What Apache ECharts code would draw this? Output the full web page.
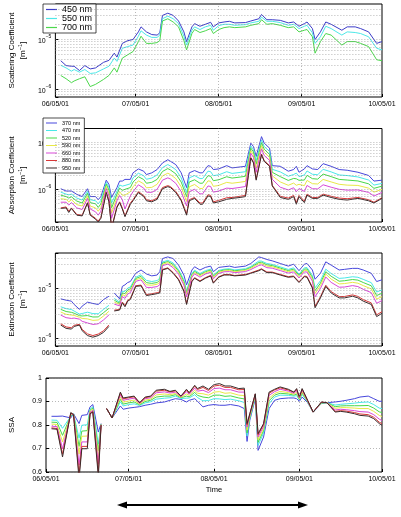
<!DOCTYPE html>
<html><head><meta charset="utf-8">
<script src="https://cdn.jsdelivr.net/npm/echarts@6/dist/echarts.min.js"></script>
<style>html,body{margin:0;padding:0;background:#fff}#c{width:401px;height:517px}</style>
</head><body><div id="c"></div>
<script>
// x: days since 06/05/01
const xTickDays = [0, 30, 61, 92, 122];
const xTickLabels = ['06/05/01', '07/05/01', '08/05/01', '09/05/01', '10/05/01'];

// Panel 1: scattering coefficient, values in 1e-6 m^-1
const scatNames = ['450 nm', '550 nm', '700 nm'];
const scatDays = [2,4,6,7,9,11,13,15,18,20,22,23,25,27,29,31,32,34,36,38,39,40,42,44,46,48,49,51,52,54,56,58,59,61,63,65,67,71,73,76,77,79,81,84,87,89,91,93,94,96,97,99,101,103,107,109,112,114,117,120,122];
const scat450 = [3.7,2.96,2.87,2.87,2.36,2.96,2.54,2.66,3.44,3.76,5.23,4.37,8.2,9.3,9.8,13.9,17.5,13.9,12.3,12.0,13.3,29.6,32.8,29.6,22.9,13.9,8.9,17.5,20.3,18.0,19.7,21.6,17.5,21.0,21.9,22.6,21.0,21.3,22.9,25.4,30.9,24.3,24.3,23.6,21.0,21.9,18.0,20.3,21.9,16.2,9.8,13.9,21.9,19.7,15.0,17.5,17.5,16.2,13.9,8.2,8.9];
const scat550 = [3.0,2.66,2.29,2.47,2.19,2.47,2.06,2.12,2.54,2.87,4.17,3.59,6.55,7.08,7.6,11.4,14.6,12.0,10.8,10.8,12.0,25.4,28.7,25.4,20.3,11.4,7.6,15.0,17.5,15.5,17.5,18.8,15.0,18.5,19.7,19.7,18.8,19.4,21.0,22.6,27.4,22.6,22.6,21.3,18.8,19.7,16.2,18.0,18.8,13.3,8.2,11.1,18.0,16.2,12.0,13.9,13.5,12.9,11.1,6.55,6.08];
const scat700 = [1.88,1.62,1.35,1.46,1.62,1.77,1.13,1.25,1.57,1.88,2.66,2.19,4.17,4.85,5.64,8.9,11.4,8.2,8.2,8.5,9.3,22.9,25.4,21.9,17.5,9.3,6.08,12.9,15.5,13.5,14.6,16.2,12.9,15.5,16.9,17.5,16.9,17.5,18.8,20.3,24.3,19.7,20.3,18.8,16.9,17.5,13.9,15.0,15.5,11.1,5.23,8.9,12.9,12.0,7.6,8.9,8.9,8.2,7.08,3.87,3.7];

// Panels 2-4 wavelengths
const wlNames = ['370 nm', '470 nm', '520 nm', '590 nm', '660 nm', '880 nm', '950 nm'];

// Panel 2: absorption coefficient, values in 1e-6 m^-1
const absDays = [2,4,5,6,8,10,12,13,15,16,17,19,20,21,23,24,25,26,28,29,31,33,34,36,38,40,42,43,45,47,49,50,52,54,55,57,58,59,61,64,66,69,71,73,74,75,77,78,80,81,84,87,89,90,91,93,94,96,98,100,103,106,109,113,117,119,122];
const abs370 = [1.03,.92,.92,.92,.78,.70,1.03,.70,.70,.60,.70,1.57,1.28,.67,1.09,1.5,1.5,1.63,1.63,2.25,2.73,2.44,2.07,2.25,2.65,3.66,4.3,3.97,3.37,2.25,1.09,2.25,2.52,2.25,2.25,3.21,3.11,2.65,2.73,3.21,2.87,3.01,3.11,9.7,8.2,5.06,13.4,9.7,7.6,3.21,3.11,2.44,2.65,3.11,2.32,2.73,3.21,2.73,2.65,3.54,3.11,2.65,2.56,2.32,1.98,1.5,1.57];
const abs470 = [.87,.79,.76,.79,.65,.59,.91,.60,.57,.49,.58,1.41,1.09,.51,.91,1.24,1.17,1.21,1.31,1.76,2.21,1.95,1.64,1.74,2.03,2.92,3.39,3.14,2.63,1.76,.85,1.76,1.97,1.70,1.70,2.45,2.38,1.96,2.04,2.38,2.19,2.30,2.38,8.5,7.1,4.1,11.4,8.2,6.5,2.68,2.36,1.90,2.08,2.22,1.87,2.03,2.47,2.10,2.05,2.68,2.36,2.03,1.97,1.84,1.58,1.23,1.34];
const abs520 = [.75,.70,.65,.69,.56,.51,.82,.52,.49,.41,.49,1.29,.96,.40,.79,1.06,.95,1.0,1.09,1.43,1.86,1.62,1.35,1.41,1.63,2.41,2.78,2.59,2.14,1.43,.70,1.43,1.60,1.35,1.35,1.96,1.90,1.53,1.60,1.86,1.74,1.83,1.90,7.6,6.3,3.44,9.95,7.2,5.6,2.31,1.87,1.55,1.71,1.68,1.56,1.58,1.99,1.69,1.65,2.12,1.87,1.63,1.58,1.51,1.31,1.05,1.17];
const abs590 = [.63,.61,.54,.60,.47,.44,.72,.44,.40,.34,.41,1.16,.83,.31,.67,.89,.75,.75,.89,1.13,1.52,1.31,1.08,1.10,1.28,1.94,2.21,2.07,1.69,1.13,.55,1.13,1.27,1.04,1.04,1.52,1.48,1.16,1.21,1.41,1.35,1.42,1.48,6.7,5.5,2.82,8.6,6.2,4.86,1.94,1.44,1.22,1.36,1.22,1.28,1.20,1.55,1.32,1.30,1.63,1.44,1.28,1.23,1.21,1.06,.87,1.0];
const abs660 = [.53,.53,.46,.52,.40,.37,.64,.38,.33,.28,.34,1.04,.72,.24,.57,.74,.60,.38,.72,.89,1.25,1.06,.87,.86,1.0,1.57,1.76,1.66,1.34,.89,.44,.89,1.0,.80,.80,1.18,1.15,.87,.92,1.06,1.04,1.10,1.15,5.9,4.8,2.32,7.35,5.3,4.17,1.64,1.11,.97,1.08,.89,1.04,.90,1.21,1.03,1.02,1.25,1.11,1.0,.96,.97,.86,.72,.86];
const abs880 = [.40,.42,.34,.40,.29,.28,.52,.29,.24,.21,.25,.87,.56,.15,.43,.54,.40,.27,.51,.60,.89,.74,.60,.57,.65,1.09,1.20,1.14,.90,.60,.30,.60,.67,.51,.51,.77,.74,.54,.58,.66,.67,.71,.74,4.8,3.78,1.65,5.7,4.1,3.22,1.22,.71,.65,.74,.52,.74,.56,.79,.67,.67,.79,.71,.65,.63,.67,.60,.53,.66];
const abs950 = [.39,.40,.32,.39,.28,.27,.51,.28,.23,.20,.24,.85,.54,.145,.41,.52,.38,.26,.48,.57,.85,.70,.57,.54,.61,1.03,1.14,1.09,.85,.57,.28,.57,.64,.48,.48,.72,.70,.51,.54,.61,.64,.67,.70,4.66,3.66,1.57,5.5,3.97,3.11,1.18,.67,.61,.70,.48,.70,.52,.75,.64,.64,.75,.67,.61,.59,.64,.57,.51,.64];

// Panel 3: extinction coefficient, values in 1e-6 m^-1 (null = no data)
const extDays = [2,4,6,7,9,10,12,14,16,18,20,21,22,24,25,26,27,28,30,32,34,36,38,39,40,42,44,46,48,49,51,52,54,56,58,59,61,63,65,67,71,73,76,77,79,81,84,87,89,91,93,94,96,97,99,101,103,106,108,111,113,115,118,120,122];
const ext370 = [6.09,5.73,5.48,4.71,3.76,4.37,5.24,4.93,4.71,5.91,6.87,null,7.98,6.09,10.8,11.6,12.9,13.5,19.7,22.9,19.1,17.5,18.2,21.2,38.7,41.8,38.7,28.7,18.2,11.6,22.9,26.6,22.9,25.8,27.4,21.2,25.8,26.6,27.4,25.8,27.4,30.9,41.8,40.5,37.1,34.9,30.9,27.4,30.0,22.2,30.0,30.9,22.9,15.0,19.7,33.3,28.7,22.9,23.6,24.7,24.7,22.9,19.7,13.5,14.6];
const ext470 = [4.24,3.89,3.73,3.48,3.03,3.11,3.30,3.10,3.07,3.76,4.53,null,6.22,5.22,8.6,8.6,9.98,10.5,16.4,18.4,14.2,13.5,14.1,15.8,33.1,35.7,31.6,23.4,14.6,8.87,19.5,22.7,19.5,22.2,23.9,18.1,22.5,23.8,24.3,23.0,24.3,27.0,34.6,34.5,30.9,29.6,26.4,23.5,25.3,18.9,25.3,25.6,17.9,10.1,14.0,23.8,19.5,15.6,15.9,16.8,16.4,14.9,12.8,8.34,9.19];
const ext520 = [3.76,3.41,3.28,3.15,2.82,2.78,2.83,2.65,2.66,3.24,3.94,null,5.73,4.96,7.98,7.76,9.16,9.7,15.5,17.1,12.8,12.4,12.9,14.4,31.4,33.8,29.6,21.9,13.5,8.09,18.5,21.5,18.5,21.1,22.9,17.2,21.5,22.9,23.3,22.1,23.3,25.8,32.4,32.7,29.1,28.1,25.0,22.3,23.9,17.9,23.9,24.0,16.4,8.89,12.5,21.2,17.2,13.7,14.0,14.8,14.4,12.9,11.1,7.1,7.88];
const ext590 = [3.33,3.0,2.89,2.85,2.62,2.48,2.43,2.27,2.31,2.78,3.44,null,5.27,4.71,7.4,7.02,8.41,8.93,14.6,15.9,11.6,11.4,11.9,13.0,29.8,32.1,27.6,20.4,12.5,7.4,17.6,20.4,17.6,20.1,21.9,16.3,20.6,22.0,22.4,21.2,22.4,24.7,30.5,30.9,27.4,26.6,23.8,21.2,22.5,16.9,22.5,22.5,15.1,7.8,11.2,19.0,15.1,12.1,12.3,13.0,12.5,11.2,9.63,6.04,6.76];
const ext660 = [2.89,2.57,2.48,2.52,2.40,2.17,2.02,1.88,1.94,2.32,2.91,null,4.78,4.43,6.76,6.22,7.59,8.09,13.6,14.6,10.3,10.3,10.7,11.6,27.9,30.1,25.5,18.8,11.5,6.64,16.5,19.2,16.5,19.0,20.7,15.3,19.5,21.1,21.3,20.3,21.3,23.4,28.2,29.0,25.5,24.9,22.3,19.9,21.0,15.9,21.0,20.9,13.7,6.67,9.78,16.6,13.0,10.4,10.5,11.2,10.7,9.43,8.11,4.98,5.63];
const ext880 = [1.94,1.68,1.62,1.81,1.89,1.50,1.22,1.13,1.21,1.41,1.84,null,3.63,3.74,5.27,4.46,5.71,6.15,11.1,11.5,7.43,7.72,8.07,8.37,23.5,25.3,20.4,15.1,8.93,4.93,13.9,16.1,13.9,16.1,17.9,12.9,16.8,18.6,18.7,17.8,18.7,20.1,22.9,24.2,20.9,20.8,18.7,16.9,17.4,13.3,17.4,17.0,10.4,4.33,6.73,11.4,8.49,6.78,6.79,7.31,6.81,5.88,5.06,2.92,3.39];
const ext950 = [1.83,1.57,1.52,1.72,1.83,1.41,1.13,1.05,1.13,1.31,1.72,null,3.49,3.65,5.08,4.24,5.48,5.91,10.8,11.1,7.08,7.4,7.74,7.98,22.9,24.7,19.7,14.6,8.6,4.71,13.5,15.7,13.5,15.7,17.5,12.5,16.4,18.2,18.2,17.5,18.2,19.7,22.2,23.6,20.3,20.3,18.2,16.4,16.9,12.9,16.9,16.4,10.0,4.05,6.37,10.8,7.98,6.37,6.37,6.87,6.37,5.48,4.71,2.70,3.14];

// Panel 4: single scattering albedo (null = no data)
const ssaDays = [2,4,6,9,10,12,13,15,16,17,19,20,21,22,24,27,28,30,32,34,36,38,40,43,45,47,49,51,52,54,55,57,59,61,63,65,67,70,72,73,74,76,77,79,81,83,85,88,90,91,92,93,95,97,100,102,105,107,109,112,114,117,119,121,122];
const ssa370 = [.837,.837,.838,.830,.848,.806,.841,.844,.877,.887,.770,.806,null,.870,.830,.881,.867,.872,.875,.878,.884,.888,.894,.898,.905,.912,.909,.898,.905,.912,.901,.877,.884,.887,.884,.884,.887,.881,.870,.730,.820,.912,.692,.749,.870,.905,.912,.915,.915,.912,.901,.919,.895,.855,.891,.895,.898,.901,.905,.912,.919,.923,.912,.901,.901];
const ssa470 = [.821,.820,.786,.837,.847,.744,.799,.801,.868,.877,.719,.804,null,.870,.830,.899,.881,.887,.890,.883,.894,.899,.910,.914,.916,.923,.913,.914,.915,.929,.917,.903,.904,.912,.911,.908,.910,.903,.896,.753,.828,.918,.713,.766,.891,.919,.927,.926,.923,.925,.906,.930,.898,.855,.893,.895,.885,.888,.890,.893,.896,.898,.887,.872,.870];
const ssa520 = [.812,.811,.756,.840,.846,.709,.774,.776,.863,.872,.690,.803,null,.870,.830,.909,.889,.894,.898,.886,.900,.905,.919,.923,.923,.929,.916,.923,.920,.939,.926,.919,.916,.927,.927,.922,.924,.915,.911,.766,.833,.922,.726,.776,.903,.927,.935,.932,.927,.932,.909,.936,.900,.855,.894,.895,.878,.881,.882,.882,.882,.883,.872,.856,.853];
const ssa590 = [.804,.802,.728,.844,.846,.676,.752,.753,.859,.867,.663,.802,null,.870,.830,.918,.897,.902,.906,.889,.906,.910,.928,.932,.929,.934,.918,.932,.926,.948,.935,.933,.927,.940,.942,.935,.937,.927,.925,.778,.838,.925,.737,.785,.914,.934,.943,.938,.931,.939,.912,.941,.901,.855,.895,.895,.871,.874,.874,.872,.870,.870,.858,.841,.836];
const ssa660 = [.795,.793,.699,.848,.845,.630,.728,.728,.854,.862,.634,.801,null,.870,.830,.929,.905,.910,.914,.892,.912,.916,.937,.941,.936,.940,.921,.941,.931,.957,.944,.948,.938,.955,.957,.950,.950,.940,.940,.791,.843,.929,.749,.794,.926,.942,.952,.944,.935,.946,.915,.948,.903,.855,.896,.895,.864,.867,.865,.861,.857,.855,.844,.825,.819];
const ssa880 = [.788,.785,.676,.851,.844,.590,.709,.709,.850,.857,.600,.800,null,.870,.830,.936,.911,.916,.920,.894,.916,.921,.944,.948,.941,.945,.922,.948,.935,.965,.951,.960,.947,.966,.969,.960,.960,.950,.951,.800,.846,.932,.758,.802,.935,.949,.958,.949,.939,.952,.918,.952,.904,.855,.897,.895,.858,.861,.859,.853,.847,.844,.833,.812,.806];
const ssa950 = [.784,.782,.664,.853,.844,.570,.699,.699,.848,.855,.580,.799,null,.870,.830,.940,.915,.919,.923,.895,.919,.923,.948,.952,.943,.948,.923,.952,.938,.969,.955,.966,.952,.972,.976,.966,.966,.955,.957,.806,.848,.933,.763,.806,.940,.952,.962,.952,.940,.955,.919,.955,.905,.855,.898,.895,.855,.858,.855,.848,.841,.838,.827,.806,.799];

// log-axis gridline values (in 1e-6 m^-1)
const scatGridVals = [0.8,0.9,1,2,3,4,5,6,7,8,9,10,20,30,40];
const absGridVals = [0.3,0.4,0.5,0.6,0.7,0.8,0.9,1,2,3,4,5,6,7,8,9,10];

const scatColors = ['#3c3cc8', '#4ee8e8', '#4cd84c'];
const wlColors = ['#4646dc', '#4ae8e8', '#48d848', '#e8e848', '#d848d8', '#d83838', '#3a2a2a'];

const FONT = 'Liberation Sans, Arial, sans-serif';
const grids = [
  {left: 43, top: 4, width: 339, height: 93},
  {left: 43, top: 128.5, width: 339, height: 93.5},
  {left: 43, top: 253, width: 339, height: 93},
  {left: 43, top: 378, width: 339, height: 94}
].map(g => Object.assign(g, {show: true, borderColor: '#000', borderWidth: 1, backgroundColor: 'transparent'}));

const gridDot = {type: [1, 2], color: '#888', width: 0.6};

const xAxes = grids.map((g, i) => ({
  type: 'value', gridIndex: i, min: 0, max: 122,
  axisLine: {show: false},
  axisTick: {show: true, inside: true, length: 3, customValues: xTickDays, lineStyle: {color: '#000'}},
  axisLabel: {customValues: xTickDays, fontSize: 7, color: '#000', margin: 4, fontFamily: FONT,
    formatter: v => xTickLabels[xTickDays.indexOf(v)] || ''},
  splitLine: {show: false},
  name: i === 3 ? 'Time' : '', nameLocation: 'middle', nameGap: 14,
  nameTextStyle: {fontSize: 7.5, color: '#000', fontFamily: FONT}
}));

function logLabel(v) {
  const e = Math.log10(v);
  if (Math.abs(e - Math.round(e)) > 1e-6) return '';
  return '{b|10}{s|\u2212' + Math.abs(Math.round(e) - 6) + '}';
}
const logRich = {
  b: {fontSize: 7, color: '#000', fontFamily: FONT, lineHeight: 10, verticalAlign: 'bottom'},
  s: {fontSize: 5, color: '#000', fontFamily: FONT, lineHeight: 10, verticalAlign: 'top'}
};
const nameRich = {
  t: {fontSize: 8, color: '#000', fontFamily: FONT, lineHeight: 11},
  u: {fontSize: 5.5, color: '#000', fontFamily: FONT, lineHeight: 11, verticalAlign: 'top'}
};
function logYAxis(i, min, max, title, gap) {
  return {
    type: 'log', logBase: 10, gridIndex: i, min, max,
    axisLine: {show: false},
    axisTick: {show: true, inside: true, length: 3, lineStyle: {color: '#000'}},
    axisLabel: {formatter: logLabel, rich: logRich, margin: 4, showMinLabel: true, showMaxLabel: true},
    splitLine: {show: false},
    name: '{t|' + title + '}\n{t|[m}{u|\u22121}{t|]}', nameLocation: 'middle', nameRotate: 90, nameGap: gap,
    nameTextStyle: {rich: nameRich}
  };
}
const yAxes = [
  logYAxis(0, 0.7, 50, 'Scattering Coefficient', 20),
  logYAxis(1, 0.2, 20, 'Absorption Coefficient', 19),
  logYAxis(2, 0.7, 50, 'Extinction Coefficient', 22),
  {
    type: 'value', gridIndex: 3, min: 0.6, max: 1, interval: 0.1,
    axisLine: {show: false},
    axisTick: {show: true, inside: true, length: 3, lineStyle: {color: '#000'}},
    axisLabel: {fontSize: 7, color: '#000', margin: 4, fontFamily: FONT,
      formatter: v => (Math.abs(v - 1) < 1e-9 ? '1' : v.toFixed(1))},
    splitLine: {show: true, lineStyle: gridDot},
    name: 'SSA', nameLocation: 'middle', nameRotate: 90, nameGap: 30,
    nameTextStyle: {fontSize: 8, color: '#000', fontFamily: FONT}
  }
];

function gridSeries(i, yVals) {
  const data = yVals.map(v => ({yAxis: v})).concat(xTickDays.slice(1, 4).map(d => ({xAxis: d})));
  return {
    type: 'line', xAxisIndex: i, yAxisIndex: i, data: [], silent: true, z: 1,
    markLine: {silent: true, symbol: ['none', 'none'], label: {show: false}, animation: false,
      lineStyle: gridDot, emphasis: {disabled: true}, data}
  };
}

function mk(name, days, vals, color, i) {
  return {
    name, type: 'line', xAxisIndex: i, yAxisIndex: i,
    data: days.map((d, k) => [d, vals[k]]),
    symbol: 'none', showSymbol: false, connectNulls: false,
    lineStyle: {width: 1, color}, itemStyle: {color}, z: 3, animation: false
  };
}

const series = [gridSeries(0, scatGridVals), gridSeries(1, absGridVals), gridSeries(2, scatGridVals), gridSeries(3, [])];
[scat450, scat550, scat700].forEach((v, k) => series.push(mk(scatNames[k], scatDays, v, scatColors[k], 0)));
[abs370, abs470, abs520, abs590, abs660, abs880, abs950].forEach((v, k) => series.push(mk(wlNames[k], absDays, v, wlColors[k], 1)));
[ext370, ext470, ext520, ext590, ext660, ext880, ext950].forEach((v, k) => series.push(mk(wlNames[k], extDays, v, wlColors[k], 2)));
[ssa370, ssa470, ssa520, ssa590, ssa660, ssa880, ssa950].forEach((v, k) => series.push(mk(wlNames[k], ssaDays, v, wlColors[k], 3)));

const chart = echarts.init(document.getElementById('c'), null, {renderer: 'canvas'});
chart.setOption({
  animation: false,
  backgroundColor: '#fff',
  textStyle: {fontFamily: FONT},
  grid: grids,
  xAxis: xAxes,
  yAxis: yAxes,
  legend: [
    {left: 43, top: 4, orient: 'vertical', data: scatNames, icon: 'rect', itemWidth: 11, itemHeight: 1.2, itemGap: 0,
      padding: [1, 4, 1, 3], backgroundColor: '#fff', borderColor: '#000', borderWidth: 0.7,
      selectedMode: false, textStyle: {fontSize: 9, color: '#000', fontFamily: FONT}},
    {left: 43, top: 118, orient: 'vertical', data: wlNames, icon: 'rect', itemWidth: 11, itemHeight: 1, itemGap: 1.5,
      padding: [2, 4, 2, 3], backgroundColor: '#fff', borderColor: '#000', borderWidth: 0.7,
      selectedMode: false, textStyle: {fontSize: 5.5, color: '#000', fontFamily: FONT}}
  ],
  graphic: [
    {type: 'line', shape: {x1: 124, y1: 505, x2: 301, y2: 505}, style: {stroke: '#000', lineWidth: 2}},
    {type: 'polygon', shape: {points: [[117, 505], [127, 501.5], [127, 508.5]]}, style: {fill: '#000'}},
    {type: 'polygon', shape: {points: [[308, 505], [298, 501.5], [298, 508.5]]}, style: {fill: '#000'}}
  ],
  series
});
</script></body></html>
